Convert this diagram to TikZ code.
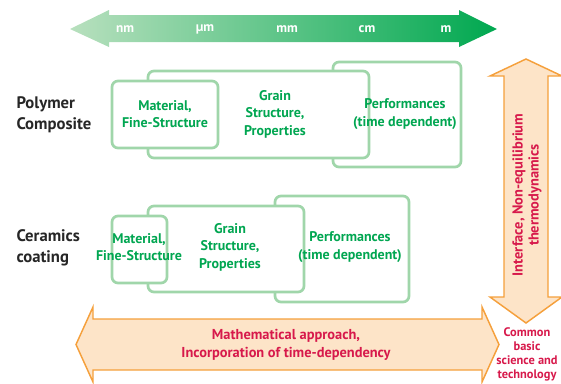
\documentclass[tikz,border=0pt]{standalone}
\usepackage{fontspec}
\setmainfont{PT Sans}
\definecolor{boxgreen}{RGB}{160,214,170}
\definecolor{txtgreen}{RGB}{0,166,81}
\definecolor{lightgreen}{RGB}{184,224,190}
\definecolor{deepgreen}{RGB}{0,168,80}
\definecolor{peach}{RGB}{253,228,200}
\definecolor{edgeorange}{RGB}{245,160,60}
\definecolor{crimson}{RGB}{215,25,75}

\tikzset{every picture/.style={line width=0.75pt}}

\begin{document}
\begin{tikzpicture}[x=0.75pt,y=0.75pt,yscale=-1,xscale=1,
    scalebox/.style={draw=boxgreen,line width=2pt,fill=white,rounded corners=4.5pt},
    bigarrow/.style={draw=edgeorange,line width=1.1pt,fill=peach},
    greentext/.style={text=txtgreen,font=\bfseries\fontsize{10.5}{13.2}\selectfont,align=center,inner sep=0.75pt},
    rowlabel/.style={text=black!85,font=\bfseries\fontsize{12.5}{15.5}\selectfont,align=left,inner sep=0.75pt,anchor=west},
    unitlabel/.style={text=white,font=\bfseries\fontsize{10}{11}\selectfont,inner sep=0.75pt},
    redtext/.style={text=crimson,font=\bfseries\fontsize{10.8}{13.5}\selectfont,align=center,inner sep=0.75pt}]
    \useasboundingbox (0,0) rectangle (561,383);

    %Shape: Double Arrow (length scale)
    \shade [left color=lightgreen,right color=deepgreen] (70,29) -- (109,10) -- (109,15) -- (459,15) -- (459,10) -- (497,29) -- (459,47) -- (459,42) -- (109,42) -- (109,47) -- cycle ;
    % Text Node
    \draw (125,29) node [unitlabel] (nm) {nm};
    % Text Node
    \draw (205,29) node [unitlabel] (um) {µm};
    % Text Node
    \draw (287,29) node [unitlabel] (mm) {mm};
    % Text Node
    \draw (367,29) node [unitlabel] (cm) {cm};
    % Text Node
    \draw (446,29) node [unitlabel] (m) {m};

    %Shape: Rounded Rect (polymer, performances)
    \draw [scalebox] (333,62) rectangle (461,167) ;
    %Shape: Rounded Rect (polymer, grain)
    \draw [scalebox] (148,71) rectangle (369,158) ;
    %Shape: Rounded Rect (polymer, material)
    \draw [scalebox] (112,81) rectangle (218,148) ;

    %Shape: Rounded Rect (ceramics, performances)
    \draw [scalebox] (275,196) rectangle (409,302) ;
    %Shape: Rounded Rect (ceramics, grain)
    \draw [scalebox] (148,206) rectangle (304,292) ;
    %Shape: Rounded Rect (ceramics, material)
    \draw [scalebox] (112,216) rectangle (167,283) ;

    % Text Node
    \draw (15,114.5) node [rowlabel] (polymer) {Polymer\\Composite};
    % Text Node
    \draw (15,248) node [rowlabel] (ceramics) {Ceramics\\coating};

    % Text Node
    \draw (165,114) node [greentext] (polymat) {Material,\\Fine-Structure};
    % Text Node
    \draw (275,114) node [greentext] (polygrain) {Grain\\Structure,\\Properties};
    % Text Node
    \draw (405,114) node [greentext] (polyperf) {Performances\\(time dependent)};
    % Text Node
    \draw (139,247) node [greentext] (ceramat) {Material,\\Fine-Structure};
    % Text Node
    \draw (230,247) node [greentext] (ceragrain) {Grain\\Structure,\\Properties};
    % Text Node
    \draw (350,247) node [greentext] (ceraperf) {Performances\\(time dependent)};

    %Shape: Double Arrow (vertical)
    \draw [bigarrow] (526,59) -- (562,76) -- (548,76) -- (548,297) -- (562,297) -- (526,323) -- (490,297) -- (504,297) -- (504,76) -- (490,76) -- cycle ;
    % Text Node
    \draw (527,195) node [redtext,rotate=90,font=\bfseries\fontsize{10.8}{12}\selectfont] (interface) {Interface, Non-equilibrium\\thermodynamics};

    %Shape: Double Arrow (horizontal)
    \draw [bigarrow] (76,344.5) -- (93,307) -- (93,319) -- (482,319) -- (482,307) -- (499,344.5) -- (482,382) -- (482,370) -- (93,370) -- (93,382) -- cycle ;
    % Text Node
    \draw (286,345) node [redtext] (math) {Mathematical approach,\\Incorporation of time-dependency};

    % Text Node
    \draw (527,354) node [redtext,font=\bfseries\fontsize{9.3}{10.5}\selectfont] (common) {Common\\basic\\science and\\technology};

\end{tikzpicture}
\end{document}
